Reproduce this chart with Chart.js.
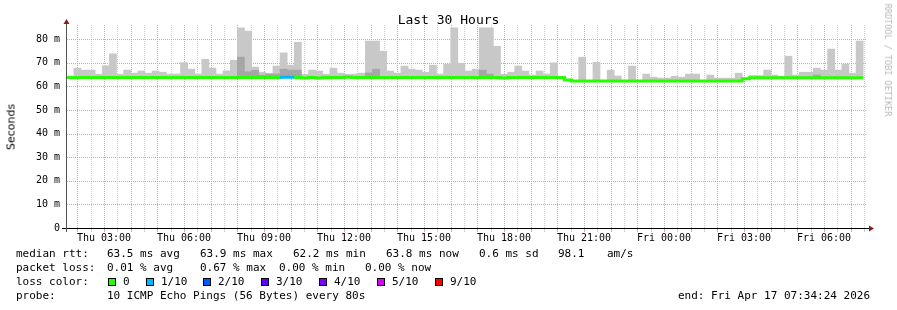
<!DOCTYPE html>
<html lang="en">
<head>
<meta charset="UTF-8">
<title>Last 30 Hours</title>
<script src="https://cdn.jsdelivr.net/npm/chart.js"></script>
<style>
  * { margin: 0; padding: 0; box-sizing: border-box; }
  body { background: #fff; width: 897px; height: 310px; overflow: hidden;
         font-family: 'DejaVu Sans Mono', monospace; font-size: 11px; color: #000; }
  #wrap { position: relative; width: 897px; height: 310px; }
  canvas { position: absolute; left: 0; top: 0; }
  .t { position: absolute; white-space: pre; line-height: 13px; }
  .sq { position: absolute; width: 8px; height: 8px; border: 1px solid #000; }
  .rot { position: absolute; white-space: pre; }
</style>
</head>
<body>
<div id="wrap">
  <canvas id="smoke" width="897" height="310"></canvas>
  <div class="t" style="left:0; width:897px; top:12px; text-align:center; font-size:13px; line-height:15px;">Last 30 Hours</div>
  <div class="rot" style="left:11px; top:127px; font-family:'DejaVu Sans', sans-serif; font-size:11px; color:#000; transform:translate(-50%,-50%) rotate(-90deg);">Seconds</div>
  <div class="rot" style="left:888px; top:60px; font-size:8.5px; color:#b8b8b8; transform:translate(-50%,-50%) rotate(90deg);">RRDTOOL / TOBI OETIKER</div>
  <div id="legend"></div>
</div>

<script>
// 16 minute bins, counted from Thu 00:00 ; first visible bin is #6
const binMinutes = 16;
const firstBin = 6;
const startHour = 1 + 34 / 60 + 24 / 3600;   // Thu 01:34:24
const endHour = startHour + 30;               // Fri 07:34:24

// median rtt per bin (ms)
const medianMs = [
  63.8, 63.8, 63.8, 63.8, 63.8, 63.8, 63.8, 63.8, 63.8, 63.8,
  63.8, 63.8, 63.8, 63.8, 63.8, 63.8, 63.8, 63.8, 63.8, 63.8,
  63.8, 63.8, 63.8, 63.8, 63.8, 63.8, 63.8, 63.8, 63.8, 63.8,
  63.9, 63.9, 63.8, 63.5, 63.8, 63.5, 63.8, 63.8, 63.8, 64.0,
  63.8, 63.8, 63.8, 63.8, 63.8, 63.8, 63.8, 63.8, 63.8, 63.8,
  63.8, 63.8, 63.8, 63.8, 63.8, 63.8, 63.8, 63.8, 63.8, 63.8,
  63.8, 63.5, 63.8, 63.8, 63.8, 63.8, 63.8, 63.8, 63.8, 63.8,
  62.7, 62.3, 62.3, 62.3, 62.3, 62.3, 62.3, 62.3, 62.3, 62.3,
  62.3, 62.3, 62.3, 62.3, 62.3, 62.3, 62.3, 62.3, 62.3, 62.3,
  62.3, 62.3, 62.3, 62.3, 62.3, 63.2, 63.7, 63.7, 63.7, 63.7,
  63.7, 63.7, 63.7, 63.7, 63.7, 63.7, 63.7, 63.7, 63.7, 63.7,
  63.7, 63.7
];

// top of the smoke per bin (ms)
const maxMs = [
  63.8, 67.7, 66.9, 66.9, 65.1, 68.7, 73.8, 65.1, 66.9, 65.6,
  66.5, 65.6, 66.5, 66.0, 65.2, 65.2, 70.1, 67.3, 65.2, 71.5,
  67.7, 65.2, 66.6, 71.1, 84.8, 83.4, 68.2, 66.0, 65.5, 68.6,
  74.2, 69.0, 78.7, 65.1, 66.9, 66.5, 65.1, 67.7, 65.6, 65.1,
  65.2, 65.6, 79.2, 79.2, 74.9, 66.5, 65.6, 68.6, 67.3, 66.9,
  66.0, 69.0, 65.2, 69.4, 84.8, 69.8, 66.5, 67.3, 84.8, 84.8,
  77.0, 65.1, 66.0, 68.6, 66.5, 64.8, 66.5, 65.2, 70.0, 63.8,
  62.7, 62.3, 72.4, 62.3, 70.2, 62.3, 66.9, 64.4, 62.3, 68.6,
  62.3, 65.2, 63.9, 63.5, 63.5, 64.3, 63.9, 65.2, 65.2, 62.3,
  64.8, 63.5, 63.5, 63.5, 65.6, 63.2, 64.6, 64.6, 66.9, 64.8,
  64.3, 72.8, 64.8, 66.0, 66.0, 67.7, 66.9, 75.8, 66.9, 69.4,
  65.6, 79.2
];

// denser inner smoke (ms), null where it is not visible
const innerMs = [
  null, null, null, null, null, null, null, null, null, null,
  null, null, null, null, null, null, null, null, null, null,
  null, null, null, null, 72.4, 66.2, 66.8, 64.8, 65.2, 65.2,
  67.3, 66.9, 66.9, null, null, null, null, null, null, null,
  null, null, 65.7, 67.3, null, null, null, null, null, null,
  null, null, null, null, null, null, null, null, 66.9, 65.2,
  null, null, null, null, null, null, null, null, null, null,
  null, null, null, null, null, null, null, null, null, null,
  null, null, null, null, null, null, null, null, null, null,
  null, null, null, null, null, null, null, null, null, null,
  null, null, null, null, null, 64.8, null, null, null, null,
  null, null
];

// lost pings per bin, index into lossColors
const lossIdx = [
  0, 0, 0, 0, 0, 0, 0, 0, 0, 0,
  0, 0, 0, 0, 0, 0, 0, 0, 0, 0,
  0, 0, 0, 0, 0, 0, 0, 0, 0, 0,
  1, 1, 0, 0, 0, 0, 0, 0, 0, 0,
  0, 0, 0, 0, 0, 0, 0, 0, 0, 0,
  0, 0, 0, 0, 0, 0, 0, 0, 0, 0,
  0, 0, 0, 0, 0, 0, 0, 0, 0, 0,
  0, 0, 0, 0, 0, 0, 0, 0, 0, 0,
  0, 0, 0, 0, 0, 0, 0, 0, 0, 0,
  0, 0, 0, 0, 0, 0, 0, 0, 0, 0,
  0, 0, 0, 0, 0, 0, 0, 0, 0, 0,
  0, 0
];

const lossColors = ['#26ff00', '#00b8ff', '#0059ff', '#5e00ff', '#7e00ff', '#dd00ff', '#ff0000'];
const lossLabels = ['0', '1/10', '2/10', '3/10', '4/10', '5/10', '9/10'];

const xTickHours = [3, 6, 9, 12, 15, 18, 21, 24, 27, 30];
const xLabels = ['Thu 03:00', 'Thu 06:00', 'Thu 09:00', 'Thu 12:00', 'Thu 15:00',
                 'Thu 18:00', 'Thu 21:00', 'Fri 00:00', 'Fri 03:00', 'Fri 06:00'];

const legendRows = [
  ['median rtt:', '63.5 ms avg', '63.9 ms max', '62.2 ms min', '63.8 ms now', '0.6 ms sd', '98.1', 'am/s'],
  ['packet loss:', '0.01 % avg', '0.67 % max', '0.00 % min', '0.00 % now'],
  ['loss color:'],
  ['probe:', '10 ICMP Echo Pings (56 Bytes) every 80s']
];

// ---- legend layout
const rowTop = [247, 261, 275, 289];
const colLeft = [
  [16, 107, 200, 293, 386, 479, 558, 607],
  [16, 107, 200, 279, 365],
  [16],
  [16, 107]
];
const swatchLeft = [108, 146, 203, 261, 319, 377, 435];
const swatchTextLeft = [123, 161, 218, 276, 334, 392, 450];

const legend = document.getElementById('legend');
function addText(txt, left, top) {
  const d = document.createElement('div');
  d.className = 't';
  d.style.left = left + 'px';
  d.style.top = top + 'px';
  d.textContent = txt;
  legend.appendChild(d);
}
legendRows.forEach((row, r) => row.forEach((txt, c) => addText(txt, colLeft[r][c], rowTop[r])));
lossColors.forEach((col, i) => {
  const s = document.createElement('div');
  s.className = 'sq';
  s.style.left = swatchLeft[i] + 'px';
  s.style.top = (rowTop[2] + 3) + 'px';
  s.style.background = col;
  legend.appendChild(s);
  addText(lossLabels[i], swatchTextLeft[i], rowTop[2]);
});
addText('end: Fri Apr 17 07:34:24 2026', 678, rowTop[3]);

// ---- chart
const binHour = i => (firstBin + i) * binMinutes / 60;
const binCenter = i => (firstBin + i + 0.5) * binMinutes / 60;

const medianPts = medianMs.map((m, i) => ({ x: binHour(i), y: m }));
medianPts.push({ x: binHour(medianMs.length), y: medianMs[medianMs.length - 1] });

const RED = '#f29a9a';
const GRAY = '#cfcfcf';

// rrdtool style dotted grid: red every hour / 10 ms, grey in between
const rrdGrid = {
  id: 'rrdGrid',
  beforeDatasetsDraw(chart) {
    const { ctx, chartArea: a, scales: { x, y } } = chart;
    const line = (x1, y1, x2, y2, col) => {
      ctx.strokeStyle = col;
      ctx.beginPath(); ctx.moveTo(x1, y1); ctx.lineTo(x2, y2); ctx.stroke();
    };
    ctx.save();
    ctx.lineWidth = 1;
    ctx.setLineDash([1, 1]);
    [false, true].forEach(major => {
      x.ticks.forEach(t => {
        if ((t.value % 1 === 0) !== major) return;
        const px = Math.round(x.getPixelForValue(t.value)) + 0.5;
        line(px, a.top, px, a.bottom, major ? RED : GRAY);
      });
      y.ticks.forEach(t => {
        if (t.value === 0 || (t.value % 10 === 0) !== major) return;
        const py = Math.round(y.getPixelForValue(t.value)) + 0.5;
        line(a.left + 1, py, a.right, py, major ? RED : GRAY);
      });
    });
    ctx.setLineDash([]);
    x.ticks.forEach(t => {
      const px = Math.round(x.getPixelForValue(t.value)) + 0.5;
      line(px, a.bottom + 1, px, a.bottom + 4, t.value % 1 === 0 ? RED : GRAY);
    });
    ctx.restore();
  }
};

const axisArrows = {
  id: 'axisArrows',
  afterDraw(chart) {
    const { ctx, chartArea: a } = chart;
    const yb = Math.round(a.bottom) + 0.5;
    const xl = Math.round(a.left) + 0.5;
    ctx.save();
    ctx.lineWidth = 1;
    ctx.strokeStyle = '#000';
    ctx.beginPath(); ctx.moveTo(a.left - 4, yb); ctx.lineTo(a.right + 4, yb); ctx.stroke();
    ctx.strokeStyle = '#555';
    ctx.beginPath(); ctx.moveTo(xl, a.bottom + 4); ctx.lineTo(xl, a.top - 3); ctx.stroke();
    ctx.fillStyle = '#8b1c1c';
    ctx.beginPath();
    ctx.moveTo(a.right + 3, yb - 3); ctx.lineTo(a.right + 8, yb); ctx.lineTo(a.right + 3, yb + 3);
    ctx.closePath(); ctx.fill();
    ctx.beginPath();
    ctx.moveTo(xl - 3, a.top - 1); ctx.lineTo(xl, a.top - 6); ctx.lineTo(xl + 3, a.top - 1);
    ctx.closePath(); ctx.fill();
    ctx.restore();
  }
};

new Chart(document.getElementById('smoke'), {
  type: 'bar',
  data: {
    datasets: [
      {
        type: 'line',
        label: 'median rtt',
        data: medianPts,
        stepped: true,
        borderWidth: 3,
        borderCapStyle: 'butt',
        pointRadius: 0,
        segment: { borderColor: c => lossColors[lossIdx[c.p0DataIndex]] ?? lossColors[0] },
        borderColor: lossColors[0],
        order: 0
      },
      {
        label: 'inner smoke',
        data: innerMs.map((v, i) => ({ x: binCenter(i), y: v === null ? null : [medianMs[i], v] })),
        backgroundColor: '#a6a6a6',
        borderWidth: 0,
        grouped: false,
        barPercentage: 1,
        categoryPercentage: 1,
        order: 1
      },
      {
        label: 'smoke',
        data: maxMs.map((v, i) => ({ x: binCenter(i), y: [medianMs[i], v] })),
        backgroundColor: '#c8c8c8',
        borderWidth: 0,
        grouped: false,
        barPercentage: 1,
        categoryPercentage: 1,
        order: 2
      }
    ]
  },
  options: {
    responsive: false,
    animation: false,
    devicePixelRatio: 1,
    layout: { padding: { left: 0, right: 31, top: 25, bottom: 0 } },
    plugins: { legend: { display: false }, tooltip: { enabled: false } },
    scales: {
      x: {
        type: 'linear',
        offset: false,
        min: startHour,
        max: endHour,
        afterFit: s => { s.height = 82; },
        afterBuildTicks: s => {
          const t = [];
          for (let h = 2; h <= 31.5; h += 0.5) t.push({ value: h });
          s.ticks = t;
        },
        ticks: {
          autoSkip: false,
          maxRotation: 0,
          minRotation: 0,
          padding: 1,
          color: '#000',
          font: { family: 'DejaVu Sans Mono', size: 10 },
          callback: v => {
            const i = xTickHours.indexOf(v);
            return i >= 0 ? xLabels[i] : '';
          }
        },
        grid: { display: false, offset: false, tickLength: 3 },
        border: { display: false }
      },
      y: {
        min: 0,
        max: 86,
        afterFit: s => { s.width = 66; },
        afterBuildTicks: s => {
          const t = [];
          for (let v = 0; v <= 85; v += 5) t.push({ value: v });
          s.ticks = t;
        },
        ticks: {
          padding: 3,
          color: '#000',
          font: { family: 'DejaVu Sans Mono', size: 10 },
          callback: v => v % 10 !== 0 ? '' : (v === 0 ? '0' : v + ' m')
        },
        grid: { display: false, tickLength: 3 },
        border: { display: false }
      }
    }
  },
  plugins: [rrdGrid, axisArrows]
});
</script>
</body>
</html>
